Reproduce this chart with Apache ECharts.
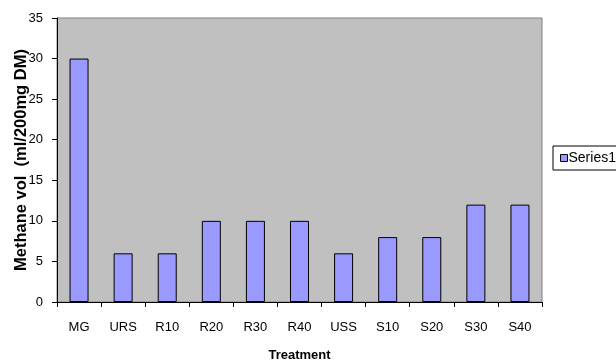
<!DOCTYPE html>
<html>
<head>
<meta charset="utf-8">
<script src="https://cdn.jsdelivr.net/npm/echarts@6/dist/echarts.min.js"></script>
<style>html,body{margin:0;padding:0;background:#fff;}#c{width:616px;height:362px;}</style>
</head>
<body>
<div id="c"></div>
<script>
var categories = ['MG','URS','R10','R20','R30','R40','USS','S10','S20','S30','S40'];
var series1 = [30,6,6,10,10,10,6,8,8,12,12];
var yTicks = {min:0, max:35, interval:5};

var chart = echarts.init(document.getElementById('c'), null, {renderer:'canvas'});
var font = '"Liberation Sans", Arial, sans-serif';
chart.setOption({
  animation:false,
  grid:{left:57, right:74, top:18, bottom:60, containLabel:false, outerBoundsMode:'none',
        show:true, backgroundColor:'#C0C0C0', borderColor:'#808080', borderWidth:1},
  legend:{
    show:true, left:553, top:146, orient:'vertical',
    backgroundColor:'#fff', borderColor:'#000', borderWidth:1,
    padding:[5,10,5,7], itemWidth:7, itemHeight:7, itemGap:4, icon:'rect',
    textStyle:{fontFamily:font, fontSize:14, color:'#000', padding:[0,0,0,-4]},
    itemStyle:{borderColor:'#000', borderWidth:1}
  },
  xAxis:{
    type:'category', data:categories,
    name:'Treatment', nameLocation:'middle', nameGap:47, nameMoveOverlap:false,
    nameTextStyle:{fontFamily:font, fontSize:13, fontWeight:'bold', color:'#000'},
    axisLine:{lineStyle:{color:'#000', width:1}},
    axisTick:{show:true, length:5, lineStyle:{color:'#000'}},
    axisLabel:{fontFamily:font, fontSize:13, color:'#000', margin:19},
    splitLine:{show:false}
  },
  yAxis:{
    type:'value', min:yTicks.min, max:yTicks.max, interval:yTicks.interval,
    name:'Methane vol  (ml/200mg DM)', nameLocation:'middle', nameGap:27, nameMoveOverlap:false,
    nameTextStyle:{fontFamily:font, fontSize:16.5, fontWeight:'bold', color:'#000'},
    axisLine:{show:true, lineStyle:{color:'#000', width:1}},
    axisTick:{show:true, length:5, lineStyle:{color:'#000'}},
    axisLabel:{fontFamily:font, fontSize:13, color:'#000', margin:14},
    splitLine:{show:false}
  },
  series:[{
    name:'Series1', type:'bar', data:series1, barWidth:19,
    itemStyle:{color:'#9999FF', borderColor:'#000', borderWidth:1}
  }]
});
</script>
</body>
</html>
